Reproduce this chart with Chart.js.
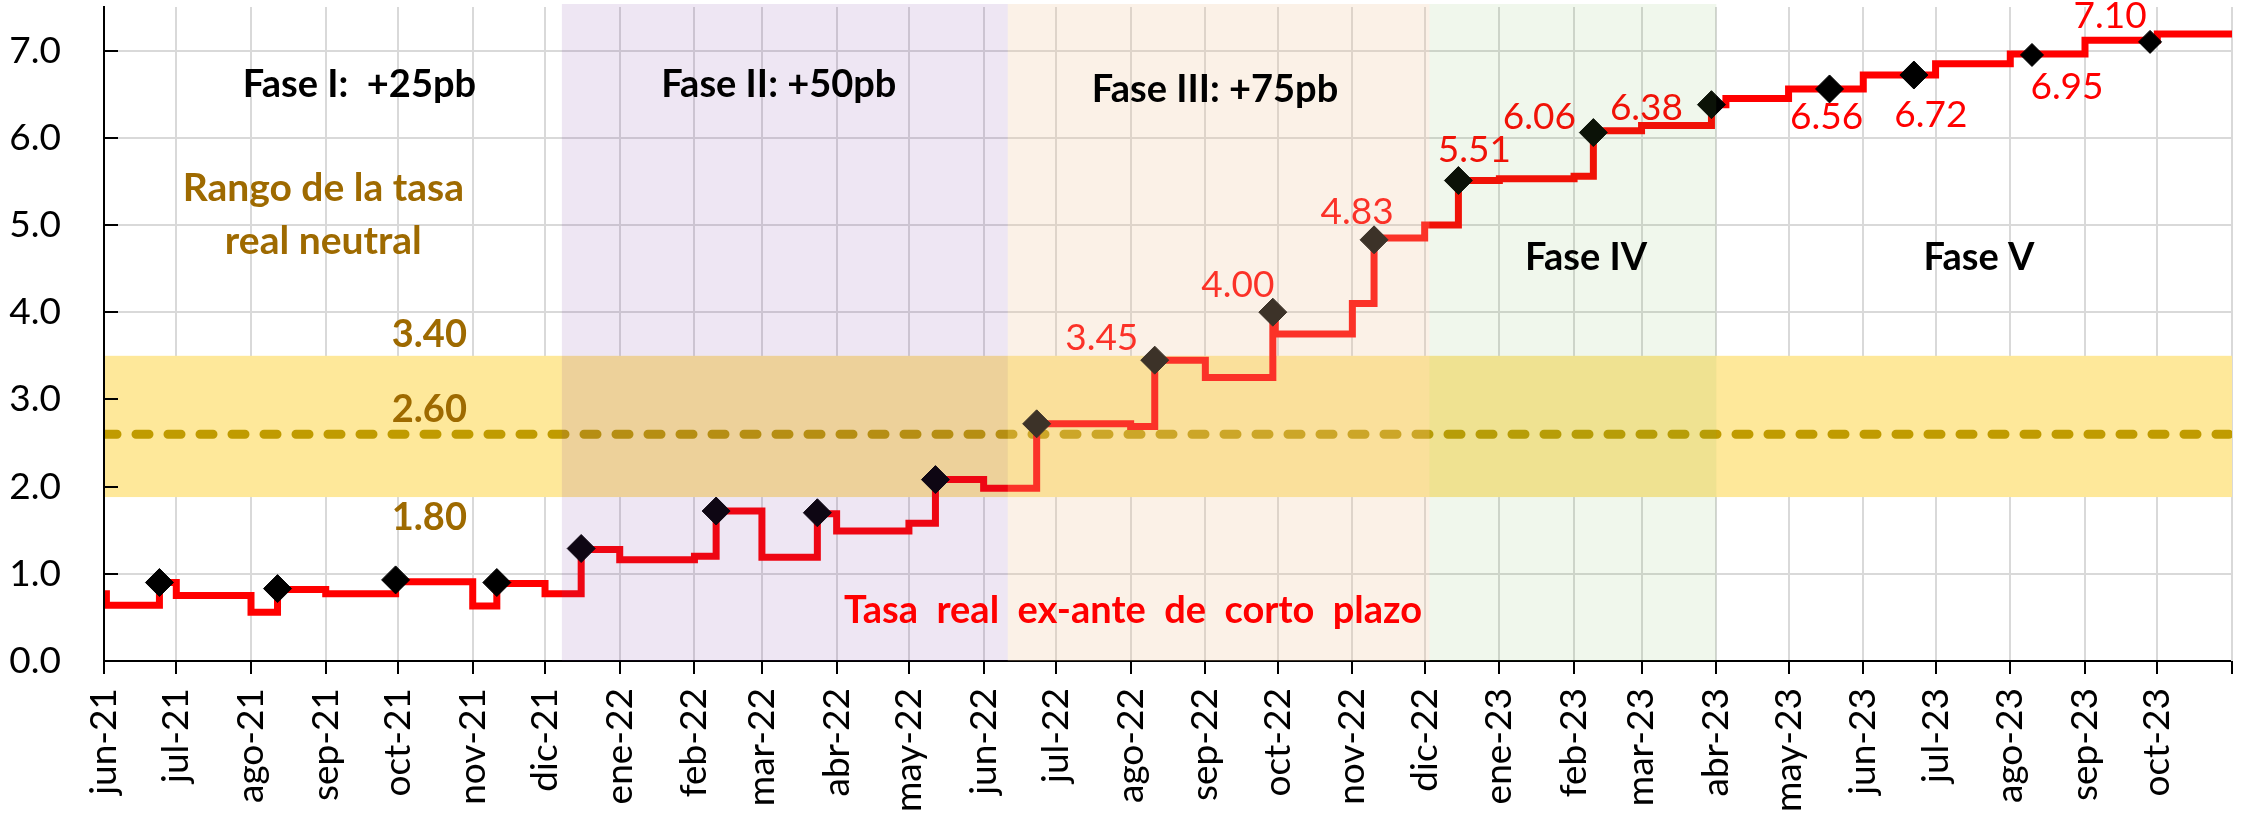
<!DOCTYPE html>
<html lang="es">
<head>
<meta charset="utf-8">
<title>Tasa real ex-ante de corto plazo</title>
<script src="https://cdn.jsdelivr.net/npm/chart.js@4.4.1/dist/chart.umd.min.js"></script>
<style>
html,body{margin:0;padding:0;background:#ffffff;overflow:hidden;}
#wrap{position:relative;width:2241px;height:822px;}
canvas{display:block;}
</style>
</head>
<body>
<div id="wrap"><canvas id="chart" width="2241" height="822"></canvas></div>
<script>
// ================= DATA =================
const axisStart = '2021-06-01';
const axisEnd = '2023-11-01';
const monthLabels = ['jun-21','jul-21','ago-21','sep-21','oct-21','nov-21','dic-21',
  'ene-22','feb-22','mar-22','abr-22','may-22','jun-22','jul-22','ago-22','sep-22','oct-22','nov-22','dic-22',
  'ene-23','feb-23','mar-23','abr-23','may-23','jun-23','jul-23','ago-23','sep-23','oct-23'];

// Tasa real ex-ante de corto plazo: date from which each level holds, and the level
const rateChangeDates = ['2021-06-01','2021-06-02','2021-06-24','2021-07-01','2021-08-01','2021-08-12',
  '2021-09-01','2021-09-30','2021-11-01','2021-11-11','2021-12-01','2021-12-16',
  '2022-01-01','2022-02-01','2022-02-10','2022-03-01','2022-03-24','2022-04-01','2022-05-01','2022-05-12',
  '2022-06-01','2022-06-23','2022-08-01','2022-08-11','2022-09-01','2022-09-29','2022-09-30',
  '2022-11-01','2022-11-10','2022-12-01','2022-12-15',
  '2023-01-01','2023-02-01','2023-02-09','2023-03-01','2023-03-30','2023-04-05','2023-05-01',
  '2023-06-01','2023-07-01','2023-08-01','2023-09-01','2023-10-01','2023-11-01'];
const rateChangeValues = [0.77,0.64,0.90,0.75,0.56,0.82,
  0.77,0.91,0.63,0.89,0.77,1.28,
  1.16,1.20,1.72,1.19,1.69,1.49,1.58,2.08,
  1.98,2.72,2.69,3.45,3.25,4.00,3.75,
  4.10,4.85,5.00,5.51,
  5.53,5.56,6.08,6.14,6.38,6.45,6.56,
  6.72,6.85,6.96,7.12,7.19,7.19];

// Policy meetings (diamond markers)
const meetingDates = ['2021-06-24','2021-08-12','2021-09-30','2021-11-11','2021-12-16',
  '2022-02-10','2022-03-24','2022-05-12','2022-06-23','2022-08-11','2022-09-29','2022-11-10','2022-12-15',
  '2023-02-09','2023-03-30','2023-05-18','2023-06-22','2023-08-10','2023-09-28'];
const meetingValues = [0.90,0.83,0.93,0.90,1.29,
  1.72,1.70,2.08,2.72,3.45,4.00,4.83,5.51,
  6.06,6.38,6.56,6.72,6.95,7.10];

// Neutral real rate and its range
const neutralRate = 2.60;
const neutralRangeBand = [1.88, 3.50];
const neutralRangeLabels = ['3.40', '2.60', '1.80'];

// Phases
const phaseTitles = ['Fase I:  +25pb', 'Fase II: +50pb', 'Fase III: +75pb', 'Fase IV', 'Fase V'];
const shadedPhaseStarts = ['2021-12-08', '2022-06-11', '2022-12-03'];
const shadedPhaseEnds   = ['2022-06-11', '2022-12-03', '2023-04-01'];
const rangeTitle = ['Rango de la tasa', 'real neutral'];
const seriesTitle = 'Tasa  real  ex-ante  de  corto  plazo';

// ================= LAYOUT / STYLE =================
const FONT = 'Lato';
const phaseShadeColors = ['rgba(112,48,160,0.12)', 'rgba(240,200,160,0.25)', 'rgba(112,173,71,0.10)'];
// [date, value] anchors (text baseline, centred)
const phaseTitleAnchors = [['2021-09-15',6.47],['2022-03-08',6.47],['2022-09-05',6.41],['2023-02-06',4.48],['2023-07-19',4.48]];
const rangeTitleAnchors = [['2021-08-31',5.27],['2021-08-31',4.67]];
const rangeLabelAnchors = [['2021-10-14',3.60],['2021-10-14',2.74],['2021-10-14',1.50]];
const seriesTitleAnchor = ['2022-08-02', 0.44];
// pixel offsets of value labels from their diamond (null = no label)
const valueLabelOffsets = [null,null,null,null,null,null,null,null,null,
  [-53,-10],[-35,-15],[-17,-16],[16,-19],[-54,-4],[-65,15],[-3,40],[17,52],[35,44],[-40,-14]];

// ================= HELPERS =================
const DAY_MS = 86400000;
function dayIndex(s) {
  const [yy, mm, dd] = s.split('-').map(Number);
  const [y0, m0, d0] = axisStart.split('-').map(Number);
  return Math.round((Date.UTC(yy, mm - 1, dd) - Date.UTC(y0, m0 - 1, d0)) / DAY_MS);
}
const monthTickValues = monthLabels.map((_, i) => {
  const [y0, m0] = axisStart.split('-').map(Number);
  return Math.round((Date.UTC(y0, m0 - 1 + i, 1) - Date.UTC(y0, m0 - 1, 1)) / DAY_MS);
});

const stepData = rateChangeDates.map((d, i) => ({ x: dayIndex(d), y: rateChangeValues[i] }));
const meetingData = meetingDates.map((d, i) => ({ x: dayIndex(d), y: meetingValues[i] }));
const neutralData = [{ x: 0, y: neutralRate }, { x: dayIndex(axisEnd), y: neutralRate }];

// ================= PLUGIN =================
const decorPlugin = {
  id: 'decor',
  beforeDatasetsDraw(chart) {
    const { ctx, chartArea: a, scales: { x, y } } = chart;
    ctx.save();
    const xr = x.getPixelForValue(dayIndex(axisEnd));
    ctx.strokeStyle = '#D9D9D9';
    ctx.lineWidth = 2;
    ctx.beginPath(); ctx.moveTo(xr, a.top); ctx.lineTo(xr, a.bottom); ctx.stroke();
    const yt = y.getPixelForValue(neutralRangeBand[1]);
    const yb = y.getPixelForValue(neutralRangeBand[0]);
    ctx.fillStyle = '#FEE89A';
    ctx.fillRect(a.left, yt, a.right - a.left, yb - yt);
    ctx.restore();
  },
  afterDatasetsDraw(chart) {
    const { ctx, chartArea: a, scales: { x, y } } = chart;
    ctx.save();
    ctx.font = '37px ' + FONT;
    ctx.fillStyle = '#FF0000';
    ctx.textAlign = 'center';
    ctx.textBaseline = 'alphabetic';
    meetingData.forEach((p, i) => {
      const off = valueLabelOffsets[i];
      if (!off) return;
      ctx.fillText(meetingValues[i].toFixed(2), x.getPixelForValue(p.x) + off[0], y.getPixelForValue(p.y) + off[1]);
    });
    shadedPhaseStarts.forEach((s, i) => {
      const x1 = x.getPixelForValue(dayIndex(s));
      const x2 = x.getPixelForValue(dayIndex(shadedPhaseEnds[i]));
      ctx.fillStyle = phaseShadeColors[i];
      ctx.fillRect(x1, a.top - 3, x2 - x1, a.bottom - a.top + 3);
    });
    ctx.strokeStyle = '#000';
    ctx.lineWidth = 2;
    ctx.beginPath();
    ctx.moveTo(a.left, a.top); ctx.lineTo(a.left, a.bottom + 1);
    for (let v = 1; v <= 7; v++) {
      const py = Math.round(y.getPixelForValue(v));
      ctx.moveTo(a.left, py); ctx.lineTo(a.left + 14, py);
    }
    const xr = x.getPixelForValue(dayIndex(axisEnd));
    ctx.moveTo(xr, a.bottom); ctx.lineTo(xr, a.bottom + 13);
    ctx.stroke();
    ctx.restore();
  },
  afterDraw(chart) {
    const { ctx, scales: { x, y } } = chart;
    const put = (txt, anchor, font, color) => {
      ctx.font = font;
      ctx.fillStyle = color;
      ctx.textAlign = 'center';
      ctx.textBaseline = 'alphabetic';
      ctx.fillText(txt, x.getPixelForValue(dayIndex(anchor[0])), y.getPixelForValue(anchor[1]));
    };
    ctx.save();
    phaseTitles.forEach((t, i) => put(t, phaseTitleAnchors[i], 'bold 38px ' + FONT, '#000000'));
    rangeTitle.forEach((t, i) => put(t, rangeTitleAnchors[i], 'bold 39px ' + FONT, '#9E6A00'));
    neutralRangeLabels.forEach((t, i) => put(t, rangeLabelAnchors[i], 'bold 38px ' + FONT, '#9E6A00'));
    put(seriesTitle, seriesTitleAnchor, 'bold 38px ' + FONT, '#FF0000');
    ctx.restore();
  }
};

// ================= CHART =================
new Chart(document.getElementById('chart'), {
  type: 'line',
  data: {
    datasets: [
      {
        label: 'Reuniones de política',
        data: meetingData,
        showLine: false,
        pointStyle: 'rectRot',
        pointRadius: (c) => (c.dataIndex >= 17 ? 11.5 : 14),
        pointHoverRadius: (c) => (c.dataIndex >= 17 ? 11.5 : 14),
        pointBackgroundColor: '#000000',
        pointBorderColor: '#000000',
        pointBorderWidth: 1,
        order: 0
      },
      {
        label: 'Tasa real ex-ante de corto plazo',
        data: stepData,
        stepped: 'before',
        borderColor: '#FF0000',
        borderWidth: 7,
        borderJoinStyle: 'miter',
        pointRadius: 0,
        fill: false,
        order: 1
      },
      {
        label: 'Tasa real neutral',
        data: neutralData,
        borderColor: '#C09B00',
        borderWidth: 9,
        borderDash: [13, 19],
        borderCapStyle: 'round',
        pointRadius: 0,
        fill: false,
        order: 2
      }
    ]
  },
  options: {
    responsive: false,
    animation: false,
    devicePixelRatio: 1,
    events: [],
    layout: { autoPadding: false, padding: { top: 7, right: 9, left: 0, bottom: 0 } },
    plugins: { legend: { display: false }, tooltip: { enabled: false } },
    scales: {
      x: {
        type: 'linear',
        min: 0,
        max: dayIndex(axisEnd),
        afterBuildTicks: (s) => { s.ticks = monthTickValues.map((v) => ({ value: v })); },
        afterFit: (s) => { s.height = 161; s.paddingLeft = 0; s.paddingRight = 0; },
        ticks: {
          autoSkip: false,
          maxRotation: 90,
          minRotation: 90,
          padding: 14,
          color: '#000000',
          font: { family: FONT, size: 37 },
          callback: (v, i) => monthLabels[i]
        },
        grid: { color: '#D9D9D9', lineWidth: 2, drawTicks: true, tickLength: 13, tickColor: '#000000', tickWidth: 2 },
        border: { color: '#000000', width: 2 }
      },
      y: {
        min: 0,
        max: 7.5,
        afterFit: (s) => { s.width = 104; s.paddingTop = 0; s.paddingBottom = 0; },
        ticks: {
          stepSize: 1,
          includeBounds: false,
          padding: 43,
          color: '#000000',
          font: { family: FONT, size: 37 },
          callback: (v) => Number(v).toFixed(1)
        },
        grid: { color: '#D9D9D9', lineWidth: 2, drawTicks: false },
        border: { color: '#000000', width: 2 }
      }
    }
  },
  plugins: [decorPlugin]
});
</script>
</body>
</html>
